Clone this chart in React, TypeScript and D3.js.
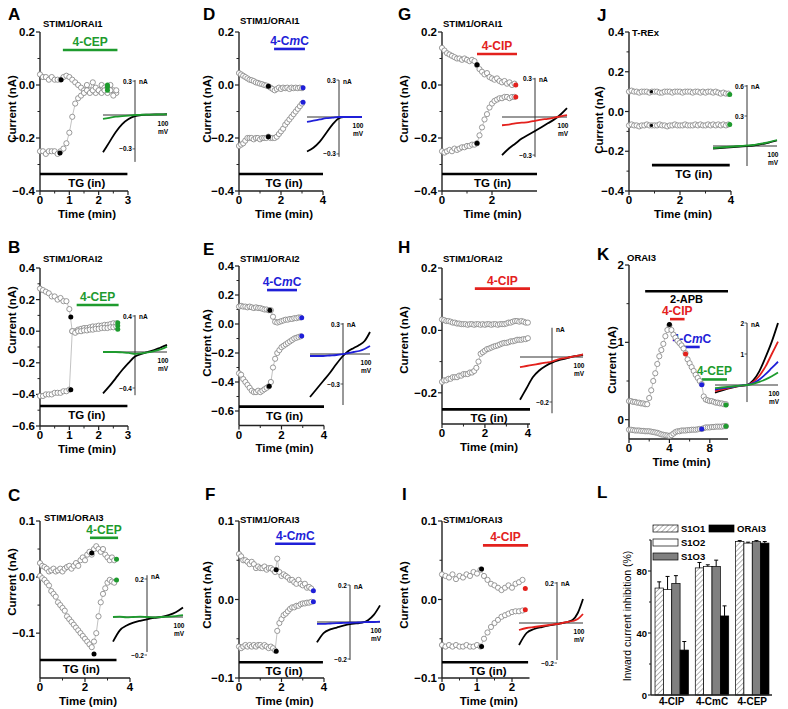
import * as d3 from "d3";

const GREEN = "#1e9b2e";
const BLUE = "#1f1fd8";
const RED = "#e3211d";
const FONT = "'Liberation Sans', Arial, Helvetica, sans-serif";

// holding potentials of the ramp, used by all I-V insets (mV)
const ivMv = [-100, -80, -60, -40, -20, 0, 20, 40, 60, 80, 100];

// ---------- A  STIM1/ORAI1 + 4-CEP (sampled every 0.1 min) ----------
const aUp = [0.04, 0.03, 0.03, 0.02, 0.03, 0.02, 0.02, 0.02, 0.03, 0.035, 0.03, 0.02, 0.01, 0.0, -0.01, -0.02, 0.0, -0.02, 0.01, -0.03, -0.02, 0.0, -0.01, -0.03, 0.0, -0.02, -0.03];
const aDown = [-0.25, -0.25, -0.26, -0.25, -0.25, -0.25, -0.26, -0.25, -0.24, -0.22, -0.18, -0.12, -0.07, -0.05, -0.04, -0.03, -0.02, -0.03, -0.02, -0.01, -0.02, -0.03, -0.02, -0.01, -0.02, -0.04, -0.02];
const aBlackDots = [[0.72, 0.02], [0.68, -0.257]];
const aDrugDots = [[2.3, 0.0], [2.3, -0.008], [2.3, -0.02]];
const aIvCtrl = [-0.33, -0.24, -0.15, -0.08, -0.035, -0.01, 0, 0.003, 0.005, 0.005, 0.008];
const aIvDrug = [-0.035, -0.025, -0.015, -0.01, -0.005, 0, 0.002, 0.003, 0.004, 0.005, 0.005];

// ---------- D  STIM1/ORAI1 + 4-CmC ----------
const dUp = [0.045, 0.04, 0.035, 0.03, 0.025, 0.02, 0.018, 0.015, 0.01, 0.008, 0.005, 0.003, 0.0, -0.002, -0.005, -0.01, -0.015, -0.02, -0.015, -0.01, -0.015, -0.01, -0.012, -0.01, -0.015, -0.01, -0.012, -0.01, -0.012, -0.01, -0.012];
const dDown = [-0.23, -0.225, -0.22, -0.21, -0.2, -0.2, -0.2, -0.205, -0.2, -0.2, -0.205, -0.2, -0.2, -0.2, -0.195, -0.2, -0.2, -0.2, -0.195, -0.185, -0.175, -0.165, -0.15, -0.14, -0.13, -0.12, -0.11, -0.1, -0.09, -0.08, -0.07];
const dBlackDots = [[1.4, -0.005], [1.4, -0.195]];
const dDrugDots = [[3.05, -0.01], [3.05, -0.065]];
const dIvCtrl = [-0.28, -0.25, -0.2, -0.13, -0.06, -0.01, 0, 0, 0, 0, 0];
const dIvDrug = [-0.04, -0.03, -0.02, -0.01, -0.005, 0, 0, 0, 0, 0, 0];

// ---------- G  STIM1/ORAI1 + 4-CIP ----------
const gUp = [0.14, 0.13, 0.12, 0.115, 0.11, 0.105, 0.1, 0.1, 0.095, 0.1, 0.095, 0.09, 0.095, 0.09, 0.075, 0.06, 0.05, 0.04, 0.045, 0.03, 0.025, 0.02, 0.025, 0.015, 0.01, 0.015, 0.005, 0.01, 0.0, 0.005];
const gDown = [-0.25, -0.255, -0.25, -0.245, -0.25, -0.24, -0.245, -0.24, -0.235, -0.235, -0.23, -0.23, -0.225, -0.225, -0.22, -0.19, -0.16, -0.13, -0.11, -0.085, -0.07, -0.06, -0.055, -0.05, -0.05, -0.045, -0.045, -0.05, -0.045, -0.045];
const gBlackDots = [[1.4, 0.076], [1.4, -0.22]];
const gDrugDots = [[2.95, 0.0], [2.95, -0.045]];
const gIvCtrl = [-0.3, -0.25, -0.21, -0.17, -0.14, -0.11, -0.08, -0.05, -0.02, 0.02, 0.07];
const gIvDrug = [-0.065, -0.06, -0.05, -0.045, -0.04, -0.03, -0.02, -0.015, -0.005, 0.005, 0.015];

// ---------- J  T-REx ----------
const jUp = [0.1, 0.105, 0.1, 0.1, 0.095, 0.1, 0.1, 0.1, 0.095, 0.1, 0.1, 0.1, 0.095, 0.095, 0.1, 0.1, 0.1, 0.095, 0.1, 0.1, 0.1, 0.095, 0.1, 0.1, 0.1, 0.095, 0.1, 0.1, 0.095, 0.1, 0.095, 0.1, 0.1, 0.095, 0.1, 0.095, 0.09, 0.095, 0.09, 0.09];
const jDown = [-0.07, -0.065, -0.07, -0.07, -0.075, -0.07, -0.07, -0.065, -0.07, -0.07, -0.07, -0.07, -0.065, -0.07, -0.07, -0.075, -0.07, -0.07, -0.065, -0.07, -0.07, -0.07, -0.065, -0.07, -0.07, -0.07, -0.065, -0.07, -0.065, -0.07, -0.07, -0.065, -0.07, -0.065, -0.07, -0.065, -0.07, -0.065, -0.07, -0.065];
const jBlackDots = [[0.88, 0.1], [0.88, -0.07]];
const jDrugDots = [[3.95, 0.085], [3.95, -0.065]];
const jIvCtrl = [-0.025, -0.02, -0.015, -0.01, -0.005, 0, 0.005, 0.015, 0.025, 0.04, 0.055];
const jIvDrug = [-0.02, -0.015, -0.01, -0.005, 0, 0.005, 0.01, 0.02, 0.03, 0.045, 0.06];

// ---------- B  STIM1/ORAI2 + 4-CEP ----------
const bUp = [0.27, 0.26, 0.25, 0.24, 0.22, 0.22, 0.2, 0.21, 0.19, 0.19, 0.14, 0.0, 0.0, 0.01, 0.015, 0.02, 0.02, 0.025, 0.03, 0.03, 0.035, 0.035, 0.04, 0.04, 0.045, 0.05, 0.05];
const bDown = [-0.41, -0.41, -0.4, -0.4, -0.4, -0.39, -0.39, -0.39, -0.38, -0.38, -0.37, 0.0, -0.01, 0.0, 0.0, 0.005, 0.005, 0.01, 0.01, 0.015, 0.015, 0.02, 0.02, 0.02, 0.025, 0.025, 0.03];
const bBlackDots = [[1.05, 0.09], [1.05, -0.37]];
const bDrugDots = [[2.65, 0.054], [2.65, 0.035], [2.65, 0.012]];
const bIvCtrl = [-0.46, -0.38, -0.29, -0.2, -0.12, -0.05, -0.02, 0, 0.02, 0.05, 0.08];
const bIvDrug = [0, 0, 0, -0.005, -0.01, -0.02, -0.015, -0.005, 0.01, 0.03, 0.06];

// ---------- E  STIM1/ORAI2 + 4-CmC ----------
const eUp = [0.12, 0.125, 0.12, 0.12, 0.115, 0.12, 0.115, 0.11, 0.115, 0.11, 0.11, 0.105, 0.1, 0.1, 0.095, 0.095, 0.05, 0.015, 0.01, 0.015, 0.02, 0.025, 0.03, 0.03, 0.035, 0.035, 0.04, 0.04, 0.045, 0.045];
const eDown = [-0.34, -0.35, -0.38, -0.4, -0.42, -0.44, -0.46, -0.47, -0.47, -0.46, -0.47, -0.46, -0.45, -0.44, -0.43, -0.4, -0.3, -0.24, -0.2, -0.18, -0.16, -0.15, -0.14, -0.13, -0.12, -0.11, -0.1, -0.095, -0.09, -0.085];
const eBlackDots = [[1.45, 0.095], [1.42, -0.43]];
const eDrugDots = [[2.95, 0.043], [2.95, -0.083]];
const eIvCtrl = [-0.43, -0.35, -0.27, -0.19, -0.1, -0.02, 0.03, 0.06, 0.09, 0.13, 0.22];
const eIvDrug = [-0.02, -0.02, -0.02, -0.015, -0.01, 0, 0.01, 0.02, 0.03, 0.05, 0.08];

// ---------- H  STIM1/ORAI2 + 4-CIP ----------
const hUp = [0.035, 0.033, 0.03, 0.03, 0.028, 0.025, 0.025, 0.022, 0.022, 0.02, 0.02, 0.02, 0.018, 0.02, 0.02, 0.018, 0.02, 0.02, 0.018, 0.02, 0.018, 0.02, 0.02, 0.018, 0.02, 0.02, 0.018, 0.02, 0.02, 0.02, 0.022, 0.025, 0.025, 0.028, 0.03, 0.03, 0.028, 0.03, 0.028, 0.025, 0.025];
const hDown = [-0.165, -0.16, -0.16, -0.155, -0.155, -0.15, -0.15, -0.15, -0.145, -0.145, -0.14, -0.14, -0.14, -0.135, -0.135, -0.13, -0.12, -0.1, -0.075, -0.07, -0.065, -0.06, -0.058, -0.055, -0.052, -0.05, -0.048, -0.045, -0.042, -0.04, -0.04, -0.038, -0.035, -0.035, -0.033, -0.03, -0.03, -0.03, -0.028, -0.028, -0.025];
const hIvCtrl = [-0.19, -0.14, -0.09, -0.06, -0.04, -0.025, -0.015, -0.008, 0, 0.005, 0.01];
const hIvDrug = [-0.045, -0.04, -0.035, -0.03, -0.025, -0.02, -0.01, -0.005, 0, 0.005, 0.012];

// ---------- K  ORAI3, 2-APB then the three compounds (sampled every 0.2 min) ----------
const kUp = [0.24, 0.24, 0.23, 0.23, 0.22, 0.22, 0.21, 0.21, 0.2, 0.2, 0.28, 0.38, 0.5, 0.6, 0.72, 0.82, 0.9, 0.98, 1.08, 1.16, 1.22, 1.16, 1.1, 1.06, 1.02, 0.99, 0.96, 0.92, 0.86, 0.78, 0.73, 0.68, 0.63, 0.58, 0.54, 0.5, 0.46, 0.3, 0.26, 0.25, 0.24, 0.24, 0.23, 0.22, 0.22, 0.21, 0.21, 0.2, 0.2];
const kDown = [-0.13, -0.13, -0.135, -0.14, -0.14, -0.14, -0.145, -0.145, -0.15, -0.15, -0.15, -0.155, -0.16, -0.165, -0.17, -0.18, -0.19, -0.195, -0.2, -0.205, -0.21, -0.2, -0.18, -0.16, -0.15, -0.15, -0.14, -0.14, -0.14, -0.135, -0.135, -0.13, -0.13, -0.13, -0.125, -0.12, -0.12, -0.11, -0.1, -0.1, -0.1, -0.095, -0.095, -0.09, -0.09, -0.09, -0.09, -0.085, -0.085];
const kBlackDots = [[4.0, 1.23]];
const kRedDots = [[5.6, 0.85]];
const kBlueDots = [[7.2, 0.45], [7.2, -0.12]];
const kGreenDots = [[9.6, 0.19], [9.6, -0.085]];
const kIvCtrl = [-0.25, -0.18, -0.12, -0.07, -0.03, 0, 0.15, 0.45, 0.9, 1.4, 2.0];
const kIvClp = [-0.2, -0.15, -0.1, -0.06, -0.03, 0, 0.1, 0.3, 0.6, 1.0, 1.4];
const kIvCmc = [-0.15, -0.11, -0.08, -0.05, -0.02, 0, 0.06, 0.18, 0.35, 0.55, 0.75];
const kIvCep = [-0.1, -0.08, -0.06, -0.04, -0.02, 0, 0.04, 0.1, 0.18, 0.28, 0.4];

// ---------- C  STIM1/ORAI3 + 4-CEP ----------
const cUp = [0.025, 0.02, 0.018, 0.015, 0.01, 0.012, 0.015, 0.01, 0.012, 0.015, 0.01, 0.015, 0.018, 0.02, 0.015, 0.02, 0.025, 0.02, 0.03, 0.035, 0.03, 0.04, 0.045, 0.04, 0.05, 0.055, 0.05, 0.045, 0.05, 0.04, 0.035, 0.03, 0.035, 0.03];
const cDown = [0.002, -0.002, -0.005, -0.01, -0.015, -0.025, -0.03, -0.035, -0.045, -0.05, -0.055, -0.06, -0.07, -0.075, -0.08, -0.085, -0.09, -0.095, -0.1, -0.105, -0.11, -0.115, -0.12, -0.125, -0.115, -0.1, -0.07, -0.045, -0.03, -0.02, -0.01, -0.005, -0.008, -0.01];
const cBlackDots = [[2.3, 0.043], [2.4, -0.137]];
const cDrugDots = [[3.4, 0.032], [3.4, -0.005]];
const cIvCtrl = [-0.13, -0.07, -0.045, -0.03, -0.02, -0.012, -0.005, 0, 0.01, 0.025, 0.05];
const cIvDrug = [0, 0.002, -0.002, 0, 0.002, 0, -0.002, 0, 0.002, 0.005, 0.01];

// ---------- F  STIM1/ORAI3 + 4-CmC ----------
const fUp = [0.058, 0.055, 0.05, 0.05, 0.048, 0.045, 0.048, 0.045, 0.04, 0.042, 0.04, 0.04, 0.042, 0.038, 0.04, 0.04, 0.038, 0.035, 0.052, 0.035, 0.03, 0.032, 0.03, 0.028, 0.025, 0.025, 0.022, 0.02, 0.025, 0.02, 0.018, 0.02, 0.015, 0.016, 0.014];
const fDown = [-0.06, -0.062, -0.06, -0.058, -0.06, -0.058, -0.06, -0.058, -0.06, -0.058, -0.058, -0.06, -0.058, -0.06, -0.062, -0.06, -0.062, -0.065, -0.04, -0.03, -0.025, -0.02, -0.018, -0.015, -0.012, -0.01, -0.01, -0.008, -0.008, -0.006, -0.005, -0.005, -0.004, -0.004, -0.003];
const fBlackDots = [[1.75, 0.038], [1.75, -0.066]];
const fDrugDots = [[3.5, 0.011], [3.5, -0.003]];
const fIvCtrl = [-0.11, -0.06, -0.04, -0.03, -0.02, -0.012, -0.008, -0.004, 0.01, 0.04, 0.09];
const fIvDrug = [-0.01, -0.01, -0.008, -0.006, -0.005, -0.004, -0.003, -0.002, 0, 0, 0.002];

// ---------- I  STIM1/ORAI3 + 4-CIP ----------
const iUp = [0.032, 0.03, 0.028, 0.032, 0.026, 0.03, 0.028, 0.032, 0.03, 0.035, 0.033, 0.038, 0.03, 0.025, 0.02, 0.018, 0.015, 0.012, 0.015, 0.018, 0.015, 0.02, 0.022, 0.025];
const iDown = [-0.058, -0.06, -0.058, -0.06, -0.058, -0.06, -0.06, -0.058, -0.06, -0.06, -0.058, -0.06, -0.05, -0.042, -0.035, -0.03, -0.026, -0.022, -0.02, -0.018, -0.016, -0.015, -0.015, -0.014];
const iBlackDots = [[1.13, 0.039], [1.13, -0.06]];
const iDrugDots = [[2.38, 0.014], [2.38, -0.013]];
const iIvCtrl = [-0.11, -0.05, -0.03, -0.02, -0.012, -0.006, 0, 0.005, 0.015, 0.05, 0.12];
const iIvDrug = [-0.035, -0.025, -0.02, -0.015, -0.01, -0.005, 0, 0.005, 0.01, 0.02, 0.045];

// ---------- L  inhibition summary (%) ----------
const lGroups = ["4-CIP", "4-CmC", "4-CEP"];
const lSeries = ["S1O1", "S1O2", "S1O3", "ORAI3"];
const lS1O1 = [69, 82, 99];
const lS1O2 = [68, 83, 98];
const lS1O3 = [72, 83, 99];
const lORAI3 = [29, 51, 98];
const lS1O1Err = [4, 3.5, 0.6];
const lS1O2Err = [8.5, 1, 0.6];
const lS1O3Err = [5, 4, 0.6];
const lORAI3Err = [5.5, 6.5, 1];
const lTicks = [0, 40, 80];

// panel layout (pixels) + links to the data above
const panels: any[] = [
  {
    id: "A", lx: 8, ly: 20, title: "STIM1/ORAI1", tx: 43, ty: 27,
    x0: 40, x1: 128, xDomain: [0, 3], xTicks: [0, 1, 2, 3],
    yTop: 32, yBottom: 191, yDomain: [-0.4, 0.2], yTicks: [-0.4, -0.2, 0, 0.2], yFmt: ".1f", ylx: 12, yly: 109,
    dt: 0.1, up: aUp, down: aDown,
    dots: [{ pts: aBlackDots, color: "#000" }, { pts: aDrugDots, color: GREEN }],
    tg: [0, 2.98, -0.336], drugs: [{ name: "4-CEP", t: [0.78, 2.64], v: 0.132, color: GREEN }],
    inset: { hx0: 103, hx1: 167, vx: 135, zeroY: 115, pxPerNa: 113, vRange: [-0.415, 0.31], ticks: [0.3, -0.3], fmt: ".1f", curves: [{ vals: aIvCtrl, color: "#000" }, { vals: aIvDrug, color: GREEN }] },
  },
  {
    id: "D", lx: 203, ly: 20, title: "STIM1/ORAI1", tx: 240, ty: 24,
    x0: 239, x1: 323, xDomain: [0, 4], xTicks: [0, 2, 4],
    yTop: 32, yBottom: 191, yDomain: [-0.4, 0.2], yTicks: [-0.4, -0.2, 0, 0.2], yFmt: ".1f", ylx: 207, yly: 109,
    dt: 0.1, up: dUp, down: dDown,
    dots: [{ pts: dBlackDots, color: "#000" }, { pts: dDrugDots, color: BLUE }],
    tg: [0, 4, -0.336], drugs: [{ name: "4-CmC", t: [1.67, 3.14], v: 0.136, color: BLUE }],
    inset: { hx0: 307, hx1: 362, vx: 339, zeroY: 117, pxPerNa: 123, vRange: [-0.324, 0.3], ticks: [0.3, -0.3], fmt: ".1f", curves: [{ vals: dIvCtrl, color: "#000" }, { vals: dIvDrug, color: BLUE }] },
  },
  {
    id: "G", lx: 398, ly: 20, title: "STIM1/ORAI1", tx: 443, ty: 27,
    x0: 442, x1: 537, xDomain: [0, 3.8], xTicks: [0, 2],
    yTop: 32, yBottom: 191, yDomain: [-0.4, 0.2], yTicks: [-0.4, -0.2, 0, 0.2], yFmt: ".1f", ylx: 404, yly: 109,
    dt: 0.1, up: gUp, down: gDown,
    dots: [{ pts: gBlackDots, color: "#000" }, { pts: gDrugDots, color: RED }],
    tg: [0, 3.8, -0.336], drugs: [{ name: "4-CIP", t: [1.4, 3.0], v: 0.117, color: RED }],
    inset: { hx0: 502, hx1: 567, vx: 535, zeroY: 117, pxPerNa: 127, vRange: [-0.316, 0.308], ticks: [0.3, -0.3], fmt: ".1f", curves: [{ vals: gIvCtrl, color: "#000" }, { vals: gIvDrug, color: RED }] },
  },
  {
    id: "J", lx: 597, ly: 21, title: "T-REx", tx: 632, ty: 36,
    x0: 629, x1: 731, xDomain: [0, 4], xTicks: [0, 2, 4],
    yTop: 32, yBottom: 191, yDomain: [-0.4, 0.4], yTicks: [-0.4, -0.2, 0, 0.2, 0.4], yFmt: ".1f", ylx: 599, yly: 120,
    dt: 0.1, up: jUp, down: jDown,
    dots: [{ pts: jBlackDots, color: "#000", r: 1.6 }, { pts: jDrugDots, color: GREEN }],
    tg: [0.9, 3.95, -0.27], drugs: [],
    inset: { hx0: 713, hx1: 777, vx: 747, zeroY: 146, pxPerNa: 100, vRange: [-0.2, 0.61], ticks: [0.6, 0.3], fmt: ".1f", curves: [{ vals: jIvCtrl, color: "#000" }, { vals: jIvDrug, color: GREEN }] },
  },
  {
    id: "B", lx: 8, ly: 253, title: "STIM1/ORAI2", tx: 43, ty: 262,
    x0: 40, x1: 128, xDomain: [0, 3], xTicks: [0, 1, 2, 3],
    yTop: 268, yBottom: 426, yDomain: [-0.6, 0.4], yTicks: [-0.6, -0.4, -0.2, 0, 0.2, 0.4], yFmt: ".1f", ylx: 12, yly: 320,
    dt: 0.1, up: bUp, down: bDown,
    dots: [{ pts: bBlackDots, color: "#000" }, { pts: bDrugDots, color: GREEN }],
    tg: [0, 2.98, -0.473], drugs: [{ name: "4-CEP", t: [1.25, 2.68], v: 0.166, color: GREEN }],
    inset: { hx0: 103, hx1: 167, vx: 135, zeroY: 352, pxPerNa: 90, vRange: [-0.48, 0.41], ticks: [0.4, -0.4], fmt: ".1f", curves: [{ vals: bIvCtrl, color: "#000" }, { vals: bIvDrug, color: GREEN }] },
  },
  {
    id: "E", lx: 203, ly: 255, title: "STIM1/ORAI2", tx: 240, ty: 262,
    x0: 239, x1: 324, xDomain: [0, 4], xTicks: [0, 2, 4],
    yTop: 266, yBottom: 425.5, yDomain: [-0.7, 0.4], yTicks: [-0.6, -0.4, -0.2, 0, 0.2, 0.4], yFmt: ".1f", ylx: 207, yly: 343,
    dt: 0.1, up: eUp, down: eDown,
    dots: [{ pts: eBlackDots, color: "#000" }, { pts: eDrugDots, color: BLUE }],
    tg: [0, 4, -0.57], drugs: [{ name: "4-CmC", t: [1.32, 2.73], v: 0.234, color: BLUE }],
    inset: { hx0: 310, hx1: 370, vx: 343, zeroY: 354, pxPerNa: 100, vRange: [-0.51, 0.31], ticks: [0.3, -0.3], fmt: ".1f", curves: [{ vals: eIvCtrl, color: "#000" }, { vals: eIvDrug, color: BLUE }] },
  },
  {
    id: "H", lx: 398, ly: 253, title: "STIM1/ORAI2", tx: 443, ty: 262,
    x0: 442, x1: 530, xDomain: [0, 4.1], xTicks: [0, 2, 4],
    yTop: 268, yBottom: 424, yDomain: [-0.3, 0.2], yTicks: [-0.2, 0, 0.2], yFmt: ".1f", ylx: 404, yly: 340,
    dt: 0.1, up: hUp, down: hDown,
    dots: [],
    tg: [0, 4.1, -0.253], drugs: [{ name: "4-CIP", t: [1.53, 4.1], v: 0.134, color: RED }],
    inset: { hx0: 520, hx1: 583, vx: 552, zeroY: 357, pxPerNa: 225, vRange: [-0.25, 0.13], ticks: [-0.2], fmt: ".1f", curves: [{ vals: hIvCtrl, color: "#000" }, { vals: hIvDrug, color: RED }] },
  },
  {
    id: "K", lx: 597, ly: 260, title: "ORAI3", tx: 627, ty: 261,
    x0: 629, x1: 728, xDomain: [0, 9.8], xTicks: [0, 4, 8],
    yTop: 265, yBottom: 439, yDomain: [-0.25, 2], yTicks: [0, 1, 2], yFmt: "d", ylx: 612, yly: 360,
    dt: 0.2, up: kUp, down: kDown,
    dots: [{ pts: kBlackDots, color: "#000" }, { pts: kRedDots, color: RED }, { pts: kBlueDots, color: BLUE }, { pts: kGreenDots, color: GREEN }],
    tg: null,
    drugs: [
      { name: "2-APB", t: [1.6, 9.8], v: 1.66, color: "#000", below: true },
      { name: "4-CIP", t: [4.06, 5.5], v: 1.3, color: RED },
      { name: "4-CmC", t: [5.45, 7.0], v: 0.94, color: BLUE },
      { name: "4-CEP", t: [7.2, 9.7], v: 0.52, color: GREEN },
    ],
    inset: { hx0: 715, hx1: 778, vx: 747, zeroY: 385, pxPerNa: 31, vRange: [-0.55, 2.0], ticks: [2, 1], fmt: "d", curves: [{ vals: kIvCtrl, color: "#000" }, { vals: kIvClp, color: RED }, { vals: kIvCmc, color: BLUE }, { vals: kIvCep, color: GREEN }] },
  },
  {
    id: "C", lx: 8, ly: 501, title: "STIM1/ORAI3", tx: 44, ty: 521,
    x0: 40, x1: 130, xDomain: [0, 4], xTicks: [0, 2, 4],
    yTop: 521, yBottom: 678, yDomain: [-0.18, 0.1], yTicks: [-0.1, 0, 0.1], yFmt: ".1f", ylx: 12, yly: 582,
    dt: 0.1, up: cUp, down: cDown,
    dots: [{ pts: cBlackDots, color: "#000" }, { pts: cDrugDots, color: GREEN }],
    tg: [0, 3.4, -0.148], drugs: [{ name: "4-CEP", t: [2.22, 3.47], v: 0.07, color: GREEN }],
    inset: { hx0: 113, hx1: 183, vx: 147, zeroY: 617, pxPerNa: 190, vRange: [-0.184, 0.22], ticks: [0.2, -0.2], fmt: ".1f", curves: [{ vals: cIvCtrl, color: "#000" }, { vals: cIvDrug, color: GREEN }] },
  },
  {
    id: "F", lx: 205, ly: 500, title: "STIM1/ORAI3", tx: 240, ty: 523,
    x0: 239, x1: 324, xDomain: [0, 4], xTicks: [0, 2, 4],
    yTop: 521, yBottom: 678, yDomain: [-0.1, 0.1], yTicks: [-0.1, 0, 0.1], yFmt: ".1f", ylx: 207, yly: 595,
    dt: 0.1, up: fUp, down: fDown,
    dots: [{ pts: fBlackDots, color: "#000" }, { pts: fDrugDots, color: BLUE }],
    tg: [0, 3.95, -0.08], drugs: [{ name: "4-CmC", t: [1.7, 3.6], v: 0.071, color: BLUE }],
    inset: { hx0: 317, hx1: 380, vx: 350, zeroY: 622, pxPerNa: 185, vRange: [-0.205, 0.2], ticks: [0.2, -0.2], fmt: ".1f", curves: [{ vals: fIvCtrl, color: "#000" }, { vals: fIvDrug, color: BLUE }] },
  },
  {
    id: "I", lx: 402, ly: 500, title: "STIM1/ORAI3", tx: 443, ty: 523,
    x0: 442, x1: 529.5, xDomain: [0, 2.5], xTicks: [0, 1, 2],
    yTop: 521, yBottom: 678, yDomain: [-0.1, 0.1], yTicks: [-0.1, 0, 0.1], yFmt: ".1f", ylx: 404, yly: 595,
    dt: 0.1, up: iUp, down: iDown,
    dots: [{ pts: iBlackDots, color: "#000" }, { pts: iDrugDots, color: RED }],
    tg: [0, 2.46, -0.08], drugs: [{ name: "4-CIP", t: [1.17, 2.46], v: 0.069, color: RED }],
    inset: { hx0: 519, hx1: 583, vx: 557, zeroY: 623, pxPerNa: 200, vRange: [-0.185, 0.205], ticks: [0.2, -0.2], fmt: ".1f", curves: [{ vals: iIvCtrl, color: "#000" }, { vals: iIvDrug, color: RED }] },
  },
];

function drugLabel(name: string) {
  if (name === "4-CmC") return <>4-C<tspan fontStyle="italic">m</tspan>C</>;
  return name;
}

const mids = (a: number[]) => a.slice(1).map((v, i) => (v + a[i]) / 2);

function IVInset({ s }: { s: any }) {
  const vx = d3.scaleLinear().domain([-100, 0, 100]).range([s.hx0, s.vx, s.hx1]);
  const iy = d3.scaleLinear().domain([0, 1]).range([s.zeroY, s.zeroY - s.pxPerNa]);
  const fmt = d3.format(s.fmt);
  const line = d3.line<number>().x((_, i) => vx(ivMv[i])).y((d) => iy(d)).curve(d3.curveMonotoneX);
  return (
    <g fontSize={6.5} fontWeight="bold">
      <line x1={s.hx0} x2={s.hx1} y1={s.zeroY} y2={s.zeroY} stroke="#333" strokeWidth={1} />
      <line x1={s.vx} x2={s.vx} y1={iy(s.vRange[0])} y2={iy(s.vRange[1])} stroke="#333" strokeWidth={1} />
      {s.ticks.map((t: number) => (
        <g key={t}>
          <line x1={s.vx - 2.5} x2={s.vx} y1={iy(t)} y2={iy(t)} stroke="#333" strokeWidth={0.8} />
          <text x={s.vx - 3} y={iy(t) + 2.5} textAnchor="end">{fmt(t)}</text>
        </g>
      ))}
      <text x={s.vx + 4} y={iy(s.vRange[1]) + 4}>nA</text>
      {s.curves.map((c: any, k: number) => (
        <path key={k} d={line(c.vals) || ""} fill="none" stroke={c.color} strokeWidth={1.8} />
      ))}
      <text x={s.hx1 - 4} y={s.zeroY + 11} textAnchor="middle">100</text>
      <text x={s.hx1 - 4} y={s.zeroY + 19} textAnchor="middle">mV</text>
    </g>
  );
}

function TracePanel({ p }: { p: any }) {
  const x = d3.scaleLinear().domain(p.xDomain).range([p.x0, p.x1]);
  const y = d3.scaleLinear().domain(p.yDomain).range([p.yBottom, p.yTop]);
  const fmt = d3.format(p.yFmt);
  const line = d3.line<number[]>().x((d) => x(d[0])).y((d) => y(d[1]));
  const traces = [p.up, p.down].map((vals: number[]) => vals.map((v, i) => [i * p.dt, v]));
  const axis = "#222";
  return (
    <g fontFamily={FONT}>
      <text x={p.lx} y={p.ly} fontSize={17} fontWeight="bold">{p.id}</text>
      <text x={p.tx} y={p.ty} fontSize={9.5} fontWeight="bold">{p.title}</text>

      {/* axes */}
      <line x1={p.x0} x2={p.x0} y1={p.yTop} y2={p.yBottom} stroke={axis} strokeWidth={1.4} />
      <line x1={p.x0} x2={p.x1} y1={p.yBottom} y2={p.yBottom} stroke={axis} strokeWidth={1.4} />
      {p.yTicks.map((t: number) => (
        <g key={"y" + t}>
          <line x1={p.x0 - 4} x2={p.x0} y1={y(t)} y2={y(t)} stroke={axis} strokeWidth={1.2} />
          <text x={p.x0 - 5} y={y(t) + 4} textAnchor="end" fontSize={11.5} fontWeight="bold">{fmt(t)}</text>
        </g>
      ))}
      {mids(p.yTicks).map((t) => (
        <line key={"ym" + t} x1={p.x0 - 2.5} x2={p.x0} y1={y(t)} y2={y(t)} stroke={axis} strokeWidth={1} />
      ))}
      {p.xTicks.map((t: number) => (
        <g key={"x" + t}>
          <line x1={x(t)} x2={x(t)} y1={p.yBottom} y2={p.yBottom + 4} stroke={axis} strokeWidth={1.2} />
          <text x={x(t)} y={p.yBottom + 13} textAnchor="middle" fontSize={11.5} fontWeight="bold">{t}</text>
        </g>
      ))}
      {mids(p.xTicks).map((t) => (
        <line key={"xm" + t} x1={x(t)} x2={x(t)} y1={p.yBottom} y2={p.yBottom + 2.5} stroke={axis} strokeWidth={1} />
      ))}
      <text x={(p.x0 + p.x1) / 2 + 3} y={p.yBottom + 26.5} textAnchor="middle" fontSize={11.5} fontWeight="bold">Time (min)</text>
      <text transform={`translate(${p.ylx},${p.yly}) rotate(-90)`} textAnchor="middle" dominantBaseline="central" fontSize={11.5} fontWeight="bold">Current (nA)</text>

      {/* TG and compound bars */}
      {p.tg && (
        <g>
          <line x1={x(p.tg[0])} x2={x(p.tg[1])} y1={y(p.tg[2])} y2={y(p.tg[2])} stroke="#000" strokeWidth={2.6} />
          <text x={(x(p.tg[0]) + x(p.tg[1])) / 2 + 3} y={y(p.tg[2]) + 13} textAnchor="middle" fontSize={11.5} fontWeight="bold">TG (in)</text>
        </g>
      )}
      {p.drugs.map((d: any) => (
        <g key={d.name}>
          <line x1={x(d.t[0])} x2={x(d.t[1])} y1={y(d.v)} y2={y(d.v)} stroke={d.color} strokeWidth={2.6} />
          <text x={(x(d.t[0]) + x(d.t[1])) / 2} y={d.below ? y(d.v) + 12 : y(d.v) - 4} textAnchor="middle" fontSize={d.below ? 11 : 12} fontWeight="bold" fill={d.color}>{drugLabel(d.name)}</text>
        </g>
      ))}

      {/* current traces */}
      {traces.map((tr: number[][], k: number) => (
        <g key={"t" + k}>
          <path d={line(tr as any) || ""} fill="none" stroke="#999" strokeWidth={0.6} />
          {tr.map((d, i) => (
            <circle key={i} cx={x(d[0])} cy={y(d[1])} r={2.6} fill="#fff" stroke="#808080" strokeWidth={0.8} />
          ))}
        </g>
      ))}
      {p.dots.map((g: any, k: number) =>
        g.pts.map((d: number[], i: number) => (
          <circle key={k + "-" + i} cx={x(d[0])} cy={y(d[1])} r={g.r || 2.5} fill={g.color} />
        ))
      )}

      <IVInset s={p.inset} />
    </g>
  );
}

function BarPanel() {
  const gx = d3.scaleBand().domain(lGroups).range([651, 773]).paddingInner(0.17).paddingOuter(0.1);
  const sx = d3.scaleBand().domain(lSeries).range([0, gx.bandwidth()]);
  const y = d3.scaleLinear().domain([0, 100]).range([695, 540]);
  const vals = [lS1O1, lS1O2, lS1O3, lORAI3];
  const errs = [lS1O1Err, lS1O2Err, lS1O3Err, lORAI3Err];
  const fills = ["url(#hatch)", "#fff", "#808080", "#000"];
  const legend = [
    { name: "S1O1", fill: fills[0], x: 653, y: 525 },
    { name: "ORAI3", fill: fills[3], x: 709, y: 525 },
    { name: "S1O2", fill: fills[1], x: 653, y: 539 },
    { name: "S1O3", fill: fills[2], x: 653, y: 553 },
  ];
  return (
    <g fontFamily={FONT}>
      <text x={597} y={498} fontSize={17} fontWeight="bold">L</text>
      {lSeries.map((s, si) =>
        lGroups.map((g, gi) => {
          const bx = (gx(g) || 0) + (sx(s) || 0);
          const top = y(vals[si][gi]);
          const et = y(vals[si][gi] + errs[si][gi]);
          const cx = bx + sx.bandwidth() / 2;
          return (
            <g key={s + g}>
              <rect x={bx} y={top} width={sx.bandwidth()} height={695 - top} fill={fills[si]} stroke="#000" strokeWidth={0.7} />
              <line x1={cx} x2={cx} y1={top} y2={et} stroke="#000" strokeWidth={1} />
              <line x1={cx - 2} x2={cx + 2} y1={et} y2={et} stroke="#000" strokeWidth={1} />
            </g>
          );
        })
      )}
      <line x1={651} x2={651} y1={540} y2={695} stroke="#222" strokeWidth={1.3} />
      <line x1={651} x2={772} y1={695} y2={695} stroke="#222" strokeWidth={1.3} />
      {lTicks.map((t) => (
        <g key={t}>
          <line x1={648} x2={651} y1={y(t)} y2={y(t)} stroke="#222" strokeWidth={1.1} />
          <text x={647} y={y(t) + 3.5} textAnchor="end" fontSize={9.5} fontWeight="bold">{t}</text>
        </g>
      ))}
      {[20, 60, 100].map((t) => (
        <line key={"m" + t} x1={649} x2={651} y1={y(t)} y2={y(t)} stroke="#222" strokeWidth={1} />
      ))}
      {lGroups.map((g) => (
        <text key={g} x={(gx(g) || 0) + gx.bandwidth() / 2} y={705} textAnchor="middle" fontSize={10} fontWeight="bold">{g}</text>
      ))}
      <text transform="translate(627,616) rotate(-90)" textAnchor="middle" dominantBaseline="central" fontSize={10.5}>Inward current inhibition (%)</text>
      {legend.map((l) => (
        <g key={l.name}>
          <rect x={l.x} y={l.y} width={25} height={7} fill={l.fill} stroke="#000" strokeWidth={0.7} />
          <text x={l.x + 28} y={l.y + 7} fontSize={9.5} fontWeight="bold">{l.name}</text>
        </g>
      ))}
    </g>
  );
}

export default function App() {
  return (
    <svg width={788} height={709} style={{ position: "absolute", left: 0, top: 0, background: "#fff" }} fontFamily={FONT}>
      <defs>
        <pattern id="hatch" patternUnits="userSpaceOnUse" width={3.5} height={3.5} patternTransform="rotate(45)">
          <rect width={3.5} height={3.5} fill="#fff" />
          <line x1={0} y1={0} x2={0} y2={3.5} stroke="#9a9a9a" strokeWidth={1.4} />
        </pattern>
      </defs>
      <rect width={788} height={709} fill="#fff" />
      {panels.map((p) => (
        <TracePanel key={p.id} p={p} />
      ))}
      <BarPanel />
    </svg>
  );
}
